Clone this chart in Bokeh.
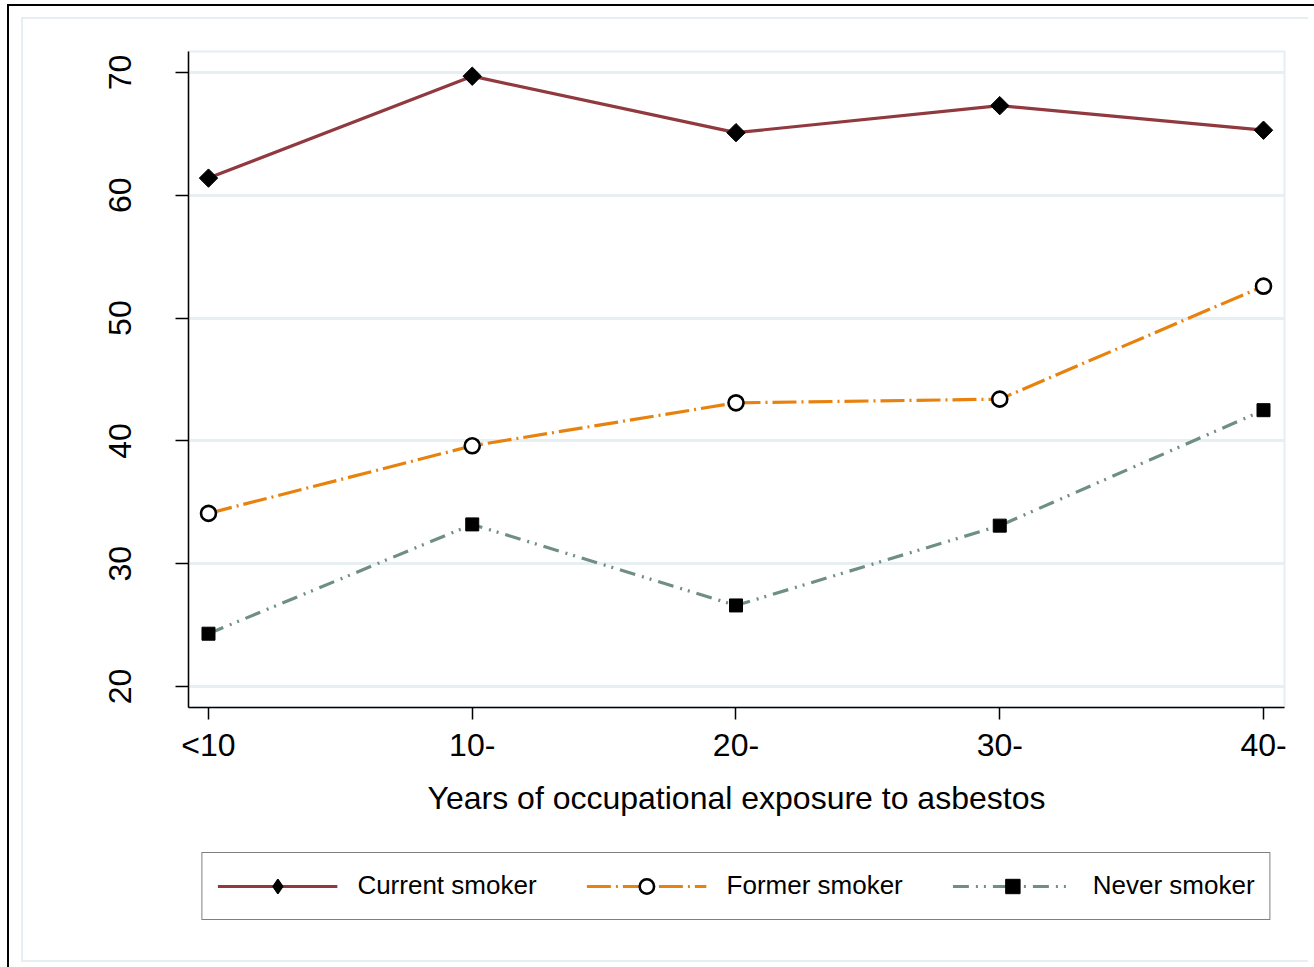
from bokeh.plotting import figure
from bokeh.models import Range1d, FixedTicker, Legend, LegendItem
from bokeh.layouts import column
from bokeh.embed import file_html
from bokeh.resources import INLINE
import math

categories = ["<10", "10-", "20-", "30-", "40-"]
current_smoker = [61.4, 69.7, 65.1, 67.3, 65.3]
former_smoker = [34.1, 39.6, 43.1, 43.4, 52.6]
never_smoker = [24.3, 33.2, 26.6, 33.1, 42.5]
y_ticks = [20, 30, 40, 50, 60, 70]
x_title = "Years of occupational exposure to asbestos"
series_names = ["Current smoker", "Former smoker", "Never smoker"]

x = list(range(len(categories)))
FONT = "Liberation Sans"
W = 1305

COLORS = ["#903A40", "#E8820E", "#6F8E84"]
DASHES = ["solid", "24 5 2 5", "16 7 2 6 2 7"]

p = figure(width=W, height=830, output_backend="svg", toolbar_location=None,
           x_range=Range1d(-0.0758, 4.0796), y_range=Range1d(18.29, 71.71),
           min_border_left=179, min_border_top=45, min_border_right=30, min_border_bottom=129)

p.background_fill_color = "white"
p.border_fill_color = None
p.outline_line_color = "#E6EEF1"
p.outline_line_width = 2

# grid
p.xgrid.visible = False
p.ygrid.grid_line_color = "#E8EFF2"
p.ygrid.grid_line_width = 3
p.ygrid.ticker = FixedTicker(ticks=y_ticks)

# y axis
p.yaxis.ticker = FixedTicker(ticks=y_ticks)
p.yaxis.major_label_orientation = "vertical"
p.yaxis.major_label_text_font = FONT
p.yaxis.major_label_text_font_size = "32px"
p.yaxis.major_label_text_color = "black"
p.yaxis.major_label_standoff = 44
p.yaxis.axis_line_color = "black"
p.yaxis.axis_line_width = 1.5
p.yaxis.major_tick_line_color = "black"
p.yaxis.major_tick_line_width = 1.5
p.yaxis.major_tick_out = 13
p.yaxis.major_tick_in = 0
p.yaxis.minor_tick_line_color = None

# x axis
p.xaxis.ticker = FixedTicker(ticks=x)
p.xaxis.major_label_overrides = {i: c for i, c in zip(x, categories)}
p.xaxis.major_label_text_font = FONT
p.xaxis.major_label_text_font_size = "32px"
p.xaxis.major_label_text_color = "black"
p.xaxis.major_label_standoff = 7
p.xaxis.axis_label = x_title
p.xaxis.axis_label_text_font = FONT
p.xaxis.axis_label_text_font_size = "32px"
p.xaxis.axis_label_text_font_style = "normal"
p.xaxis.axis_label_text_color = "black"
p.xaxis.axis_label_standoff = 14
p.xaxis.axis_line_color = "black"
p.xaxis.axis_line_width = 1.5
p.xaxis.major_tick_line_color = "black"
p.xaxis.major_tick_line_width = 1.5
p.xaxis.major_tick_out = 12
p.xaxis.major_tick_in = 0
p.xaxis.minor_tick_line_color = None

# series
p.line(x, current_smoker, line_color=COLORS[0], line_width=3.2)
p.scatter(x, current_smoker, marker="square", angle=math.pi / 4, size=13,
          fill_color="black", line_color="black")

p.line(x, former_smoker, line_color=COLORS[1], line_width=3.2, line_dash=DASHES[1])
p.scatter(x, former_smoker, marker="circle", size=15, fill_color="white",
          line_color="black", line_width=2.6)

p.line(x, never_smoker, line_color=COLORS[2], line_width=3.2, line_dash=DASHES[2])
p.scatter(x, never_smoker, marker="square", size=13, fill_color="black", line_color="black")

# legend figure (keys only; its dummy glyphs lie outside its visible range)
p2 = figure(width=W, height=131, output_backend="svg", toolbar_location=None,
            x_range=Range1d(0, 1), y_range=Range1d(0, 1),
            min_border_left=179, min_border_right=30, min_border_top=0, min_border_bottom=32)
p2.axis.visible = False
p2.grid.visible = False
p2.outline_line_color = None
p2.background_fill_color = None
p2.border_fill_color = None

off = [-10, -10]
k1l = p2.line(off, off, line_color=COLORS[0], line_width=3.2)
k1m = p2.scatter(off, off, marker="diamond", size=13,
                 fill_color="black", line_color="black", line_width=1.5)
k2l = p2.line(off, off, line_color=COLORS[1], line_width=3.2, line_dash=DASHES[1])
k2m = p2.scatter(off, off, marker="circle", size=15, fill_color="white",
                 line_color="black", line_width=2.6)
k3l = p2.line(off, off, line_color=COLORS[2], line_width=3.2, line_dash=DASHES[2])
k3m = p2.scatter(off, off, marker="square", size=13, fill_color="black", line_color="black")

legend = Legend(items=[
    LegendItem(label=series_names[0], renderers=[k1l, k1m], index=0),
    LegendItem(label=series_names[1], renderers=[k2l, k2m], index=0),
    LegendItem(label=series_names[2], renderers=[k3l, k3m], index=0),
], orientation="horizontal", location="center")
legend.label_text_font = FONT
legend.label_text_font_size = "26px"
legend.label_text_color = "black"
legend.glyph_width = 120
legend.glyph_height = 36
legend.label_standoff = 20
legend.spacing = 50
legend.padding = 15
legend.margin = 0
legend.border_line_color = "black"
legend.border_line_width = 1.5
legend.background_fill_color = "white"
legend.background_fill_alpha = 1
p2.add_layout(legend, "center")

layout = column(p, p2, spacing=0)
layout.styles = {
    "margin-left": "7px", "margin-top": "4px",
    "border-left": "2px solid black", "border-top": "2px solid black",
    "background-color": "white",
    "box-shadow": "inset 4px 3px 0 8px white, inset 0px 1px 0 6px white, inset 4px 3px 0 10px #E6EEF1",
}

open("out.html", "w").write(file_html(layout, INLINE))
